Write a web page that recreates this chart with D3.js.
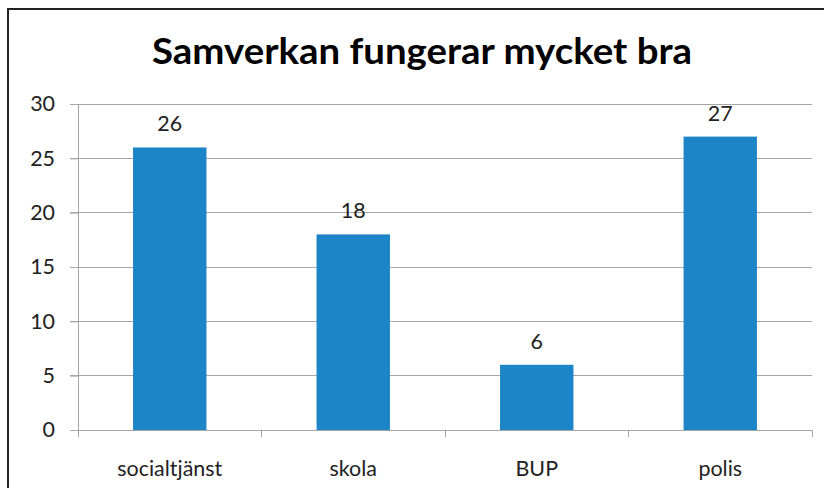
<!DOCTYPE html>
<html><head><meta charset="utf-8">
<script src="https://cdn.jsdelivr.net/npm/d3@7"></script>
<style>body{margin:0;background:#fff}svg{display:block}</style>
</head><body>
<svg id="c" width="824" height="488"></svg>
<script>
const categories = ["socialtjänst", "skola", "BUP", "polis"];
const values = [26, 18, 6, 27];
const yTicks = [0, 5, 10, 15, 20, 25, 30];
const title = "Samverkan fungerar mycket bra";

const svg = d3.select("#c");
const font = "Lato, 'Open Sans', sans-serif";
const plotL = 78, plotR = 812, plotT = 104, plotB = 430;

svg.append("rect").attr("x", 8).attr("y", 9).attr("width", 830).attr("height", 500)
  .attr("fill", "#fff").attr("stroke", "#222").attr("stroke-width", 2);

// measure a reference label to size small text
const probe = svg.append("text").attr("font-family", font).attr("font-size", 20).text("socialtjänst");
const fs = 20 * 105 / probe.node().getComputedTextLength();
probe.remove();

svg.append("text").attr("x", 422).attr("y", 64).attr("text-anchor", "middle")
  .attr("font-family", font).attr("font-weight", "bold").attr("font-size", 36)
  .attr("fill", "#000").attr("textLength", 540).attr("lengthAdjust", "spacingAndGlyphs")
  .text(title);

const x = d3.scaleBand().domain(categories).range([plotL, plotR]);
const y = d3.scaleLinear().domain([0, 30]).range([plotB, plotT]);

// gridlines
svg.append("g").selectAll("line").data(yTicks.filter(d => d > 0)).join("line")
  .attr("x1", plotL - 8).attr("x2", plotR).attr("y1", d => y(d)).attr("y2", d => y(d))
  .attr("stroke", "#a6a6a6").attr("stroke-width", 1).attr("shape-rendering", "crispEdges");

// y axis
const yAxis = svg.append("g").attr("transform", `translate(${plotL},0)`)
  .call(d3.axisLeft(y).tickValues(yTicks).tickSize(8).tickPadding(15));
yAxis.select(".domain").attr("stroke", "#a6a6a6");
yAxis.selectAll(".tick line").attr("stroke", "#a6a6a6");
yAxis.selectAll("text").attr("font-family", font).attr("font-size", fs).attr("fill", "#222");

// bars
const bw = x.bandwidth() * 0.4;
svg.append("g").selectAll("rect").data(values).join("rect")
  .attr("x", (d, i) => x(categories[i]) + x.bandwidth() / 2 - bw / 2)
  .attr("width", bw)
  .attr("y", d => y(d)).attr("height", d => y(0) - y(d))
  .attr("fill", "#1c85c7");

// value labels
svg.append("g").selectAll("text").data(values).join("text")
  .attr("x", (d, i) => x(categories[i]) + x.bandwidth() / 2)
  .attr("y", d => y(d) - 16).attr("text-anchor", "middle")
  .attr("font-family", font).attr("font-size", fs).attr("fill", "#222").text(d => d);

// x axis
const xAxis = svg.append("g").attr("transform", `translate(0,${plotB})`)
  .call(d3.axisBottom(x).tickSize(0).tickPadding(0));
xAxis.select(".domain").remove();
xAxis.selectAll("text").attr("dy", null).attr("y", 46)
  .attr("font-family", font).attr("font-size", fs).attr("fill", "#222");
svg.append("line").attr("x1", plotL - 8).attr("x2", plotR).attr("y1", plotB).attr("y2", plotB)
  .attr("stroke", "#a6a6a6").attr("shape-rendering", "crispEdges");
const bounds = categories.map(c => x(c)).concat([plotR]);
svg.append("g").selectAll("line").data(bounds).join("line")
  .attr("x1", d => d).attr("x2", d => d).attr("y1", plotB).attr("y2", plotB + 7)
  .attr("stroke", "#a6a6a6").attr("shape-rendering", "crispEdges");
</script>
</body></html>
